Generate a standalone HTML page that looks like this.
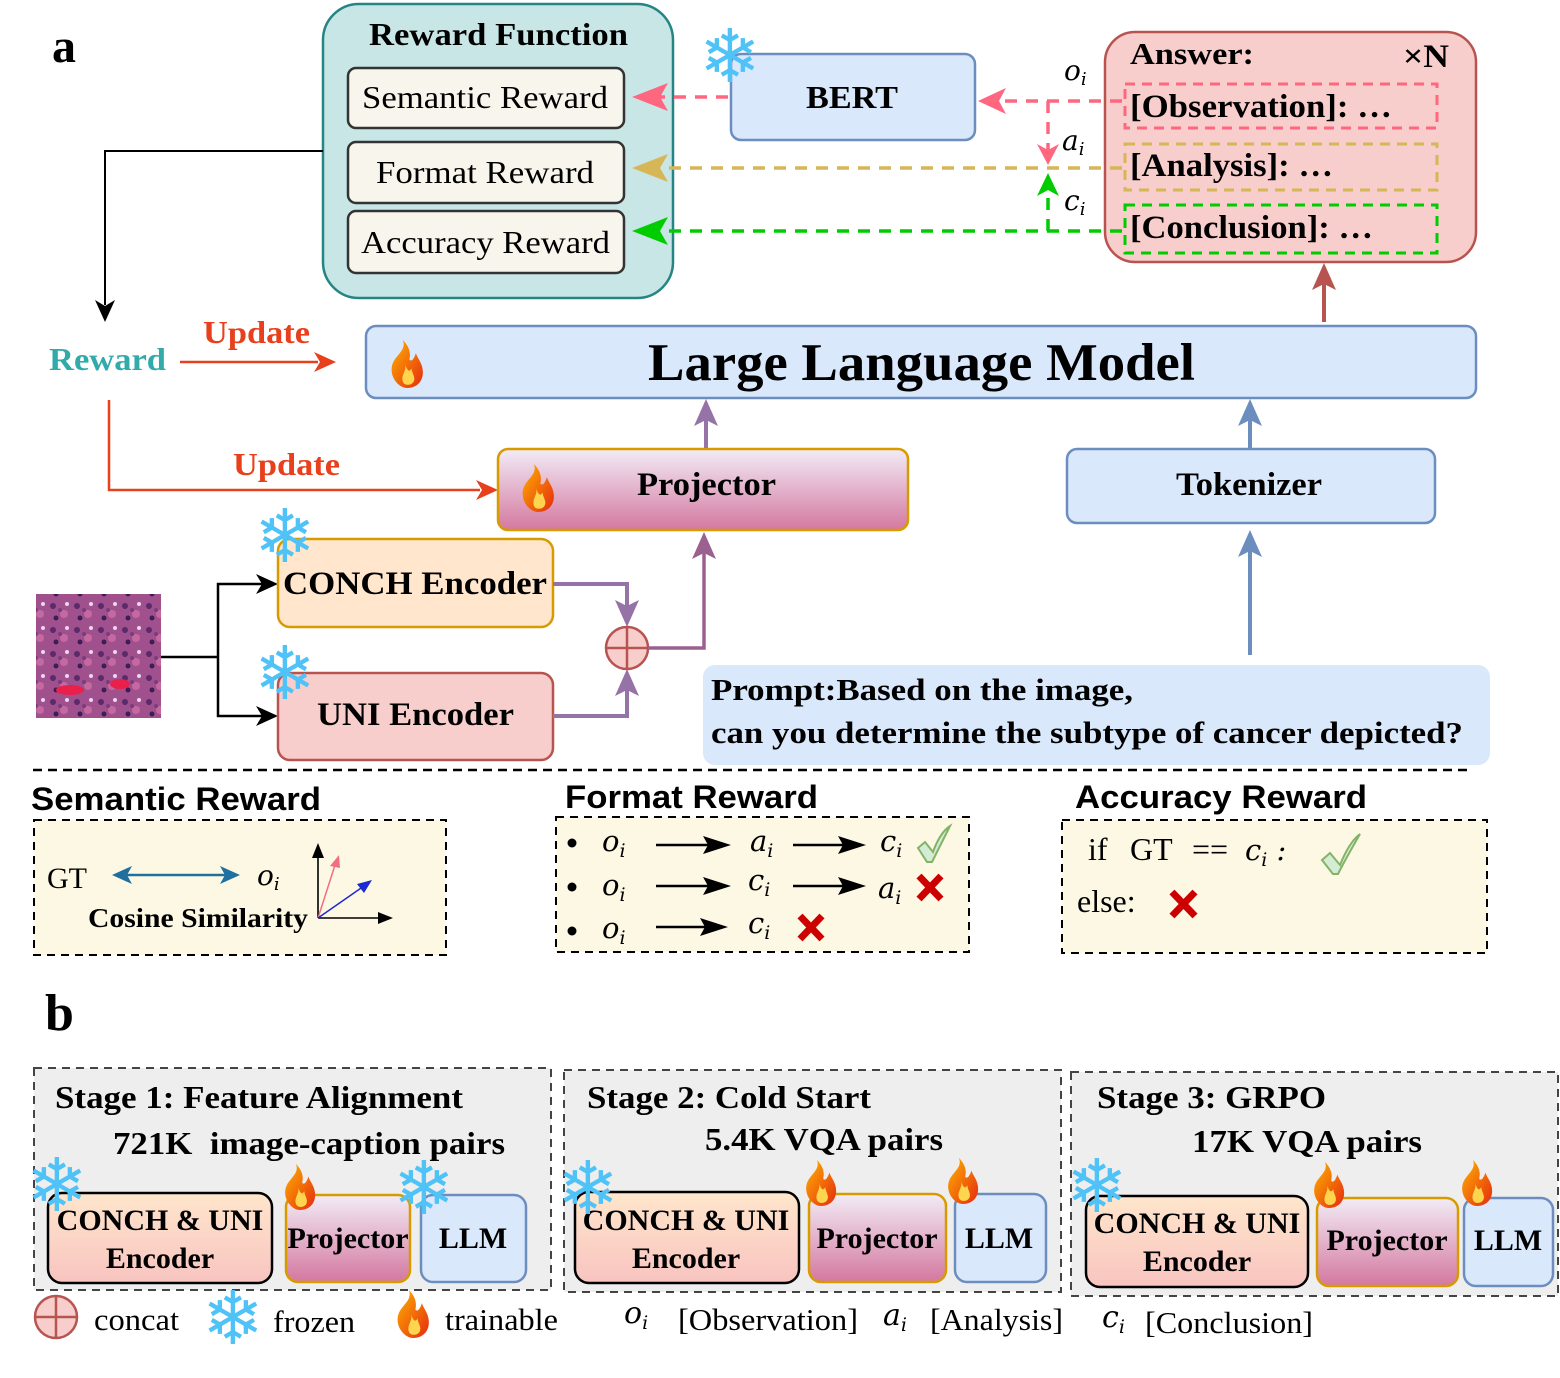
<!DOCTYPE html>
<html><head><meta charset="utf-8"><style>
html,body{margin:0;padding:0;background:#fff;}
svg{display:block;}
.s{font-family:"Liberation Serif",serif;}
.b{font-family:"Liberation Serif",serif;font-weight:bold;}
.ss{font-family:"Liberation Sans",sans-serif;font-weight:bold;}
.m{font-family:"DejaVu Serif","Liberation Serif",serif;font-style:italic;}
.sn{font-family:"DejaVu Sans",sans-serif;fill:#4fc3f7;font-size:74px;}
</style></head><body>
<svg width="1560" height="1378" viewBox="0 0 1560 1378" xmlns="http://www.w3.org/2000/svg">
<defs>
<linearGradient id="pg" x1="0" y1="0" x2="0" y2="1"><stop offset="0" stop-color="#f2ecf7"/><stop offset="1" stop-color="#d4789f"/></linearGradient>
<linearGradient id="eg" x1="0" y1="0" x2="0" y2="1"><stop offset="0" stop-color="#ffe6cc"/><stop offset="1" stop-color="#f8c4c0"/></linearGradient>
<linearGradient id="fg" x1="0" y1="0" x2="1" y2="1"><stop offset="0" stop-color="#ffb300"/><stop offset="1" stop-color="#e52b10"/></linearGradient>
<symbol id="fire" viewBox="0 0 40 44"><path d="M18 0 C22 10 10 14 8 24 C6 34 14 44 22 44 C32 44 38 36 36 26 C35 20 31 16 30 12 C28 18 26 20 24 18 C26 10 22 4 18 0Z" fill="url(#fg)"/><path d="M20 22 C22 28 16 32 18 38 C19 42 26 42 28 38 C30 34 26 30 26 26 C24 30 22 28 20 22Z" fill="#ffd54f"/></symbol>
<pattern id="tis" width="24" height="24" patternUnits="userSpaceOnUse"><rect width="24" height="24" fill="#a0508c"/><circle cx="5" cy="6" r="3" fill="#5a2a6a"/><circle cx="16" cy="14" r="4" fill="#c46aa0"/><circle cx="8" cy="18" r="2.5" fill="#3e1d55"/><circle cx="19" cy="4" r="2" fill="#e8d8ee"/><circle cx="12" cy="10" r="2" fill="#7a3b7e"/></pattern>
</defs>

<text x="52" y="62" class="b" font-size="48">a</text>

<rect x="323" y="4" width="350" height="294" rx="36" fill="#c8e6e6" stroke="#258585" stroke-width="2.5"/>
<text x="369" y="45" class="b" font-size="32" textLength="259" lengthAdjust="spacingAndGlyphs">Reward Function</text>
<rect x="348" y="68" width="276" height="60" rx="8" fill="#f8f5ec" stroke="#333" stroke-width="2.5"/>
<text x="362" y="108" class="s" font-size="32" textLength="246" lengthAdjust="spacingAndGlyphs">Semantic Reward</text>
<rect x="348" y="142" width="276" height="61" rx="8" fill="#f8f5ec" stroke="#333" stroke-width="2.5"/>
<text x="376" y="183" class="s" font-size="32" textLength="218" lengthAdjust="spacingAndGlyphs">Format Reward</text>
<rect x="348" y="211" width="276" height="62" rx="8" fill="#f8f5ec" stroke="#333" stroke-width="2.5"/>
<text x="361" y="253" class="s" font-size="32" textLength="249" lengthAdjust="spacingAndGlyphs">Accuracy Reward</text>

<rect x="731" y="54" width="244" height="86" rx="10" fill="#dae8fc" stroke="#6c8ebf" stroke-width="2.5"/>
<text x="806" y="108" class="b" font-size="32" textLength="92" lengthAdjust="spacingAndGlyphs">BERT</text>
<text x="730" y="57" class="sn" text-anchor="middle" dominant-baseline="central">❄</text>

<rect x="1105" y="32" width="371" height="230" rx="30" fill="#f8cecc" stroke="#b85450" stroke-width="2.5"/>
<text x="1130" y="64" class="b" font-size="31" textLength="124" lengthAdjust="spacingAndGlyphs">Answer:</text>
<text x="1403" y="67" class="b" font-size="33" textLength="46" lengthAdjust="spacingAndGlyphs">×N</text>
<rect x="1125" y="84" width="312" height="44" fill="none" stroke="#ff6680" stroke-width="3" stroke-dasharray="10,7"/>
<text x="1130" y="117" class="b" font-size="33" textLength="262" lengthAdjust="spacingAndGlyphs">[Observation]: …</text>
<rect x="1125" y="144" width="312" height="46" fill="none" stroke="#d6b656" stroke-width="3" stroke-dasharray="10,7"/>
<text x="1130" y="176" class="b" font-size="33" textLength="203" lengthAdjust="spacingAndGlyphs">[Analysis]: …</text>
<rect x="1125" y="205" width="312" height="48" fill="none" stroke="#00cc00" stroke-width="3" stroke-dasharray="10,7"/>
<text x="1130" y="238" class="b" font-size="33" textLength="243" lengthAdjust="spacingAndGlyphs">[Conclusion]: …</text>

<g stroke-width="3.5" fill="none" stroke-dasharray="12,9">
<path d="M1122,101 H995" stroke="#ff6680"/>
<path d="M1048,101 V150" stroke="#ff6680"/>
<path d="M728,97 H655" stroke="#ff6680"/>
<path d="M1122,168 H655" stroke="#d6b656"/>
<path d="M1122,231 H655" stroke="#00cc00"/>
<path d="M1048,231 V190" stroke="#00cc00"/>
</g>
<path d="M978,101 L1006,88 L999,101 L1006,114Z" fill="#ff6680"/>
<path d="M1048,165 L1037,144 L1048,150 L1059,144Z" fill="#ff6680"/>
<path d="M632,97 L668,83 L660,97 L668,111Z" fill="#ff6680"/>
<path d="M632,168 L668,154 L660,168 L668,182Z" fill="#d6b656"/>
<path d="M632,231 L668,217 L660,231 L668,245Z" fill="#00cc00"/>
<path d="M1048,173 L1037,196 L1048,190 L1059,196Z" fill="#00cc00"/>
<text x="1064" y="80" class="m" font-size="28">o<tspan font-size="18" dy="5">i</tspan></text>
<text x="1062" y="150" class="m" font-size="28">a<tspan font-size="18" dy="5">i</tspan></text>
<text x="1064" y="210" class="m" font-size="28">c<tspan font-size="18" dy="5">i</tspan></text>

<path d="M323,151 H105 V305" stroke="#000" stroke-width="2" fill="none"/>
<path d="M105,322 L95,300 L105,306 L115,300Z" fill="#000"/>
<text x="49" y="370" class="b" font-size="32" fill="#33aaaa" textLength="117" lengthAdjust="spacingAndGlyphs">Reward</text>
<text x="203" y="343" class="b" font-size="32" fill="#e8401c" textLength="107" lengthAdjust="spacingAndGlyphs">Update</text>
<path d="M180,362 H318" stroke="#e8401c" stroke-width="2.5"/>
<path d="M336,362 L314,352 L320,362 L314,372Z" fill="#e8401c"/>
<path d="M109,400 V490 H480" stroke="#e8401c" stroke-width="2.5" fill="none"/>
<path d="M498,490 L476,480 L482,490 L476,500Z" fill="#e8401c"/>
<text x="233" y="475" class="b" font-size="32" fill="#e8401c" textLength="107" lengthAdjust="spacingAndGlyphs">Update</text>

<rect x="366" y="326" width="1110" height="72" rx="10" fill="#dae8fc" stroke="#6c8ebf" stroke-width="2.5"/>
<text x="648" y="380" class="b" font-size="53" textLength="547" lengthAdjust="spacingAndGlyphs">Large Language Model</text>
<use href="#fire" x="383" y="340" width="44" height="48"/>
<path d="M1324,322 V280" stroke="#b85450" stroke-width="4"/>
<path d="M1324,263 L1312,290 L1324,284 L1336,290Z" fill="#b85450"/>

<rect x="498" y="449" width="410" height="81" rx="10" fill="url(#pg)" stroke="#d79b00" stroke-width="2.5"/>
<text x="637" y="495" class="b" font-size="33" textLength="139" lengthAdjust="spacingAndGlyphs">Projector</text>
<use href="#fire" x="514" y="464" width="44" height="48"/>
<path d="M706,448 V414" stroke="#9673a6" stroke-width="4"/>
<path d="M706,399 L694,426 L706,420 L718,426Z" fill="#9673a6"/>
<rect x="1067" y="449" width="368" height="74" rx="10" fill="#dae8fc" stroke="#6c8ebf" stroke-width="2.5"/>
<text x="1176" y="495" class="b" font-size="33" textLength="146" lengthAdjust="spacingAndGlyphs">Tokenizer</text>
<path d="M1250,448 V414" stroke="#6c8ebf" stroke-width="4"/>
<path d="M1250,399 L1238,426 L1250,420 L1262,426Z" fill="#6c8ebf"/>
<path d="M1250,655 V545" stroke="#6c8ebf" stroke-width="4"/>
<path d="M1250,530 L1238,557 L1250,551 L1262,557Z" fill="#6c8ebf"/>

<rect x="36" y="594" width="125" height="124" fill="url(#tis)"/>
<ellipse cx="70" cy="690" rx="14" ry="5" fill="#e8204a"/><ellipse cx="120" cy="684" rx="10" ry="5" fill="#e8204a"/>
<path d="M161,657 H218 V584 H262 M218,657 V716 H262" stroke="#000" stroke-width="2.5" fill="none"/>
<path d="M278,584 L256,574 L262,584 L256,594Z M278,716 L256,706 L262,716 L256,726Z" fill="#000"/>
<rect x="278" y="539" width="275" height="88" rx="12" fill="#ffe6cc" stroke="#d79b00" stroke-width="2.5"/>
<text x="283" y="594" class="b" font-size="33" textLength="264" lengthAdjust="spacingAndGlyphs">CONCH Encoder</text>
<rect x="278" y="673" width="275" height="87" rx="12" fill="#f8cecc" stroke="#b85450" stroke-width="2.5"/>
<text x="317" y="725" class="b" font-size="33" textLength="197" lengthAdjust="spacingAndGlyphs">UNI Encoder</text>
<text x="285" y="537" class="sn" text-anchor="middle" dominant-baseline="central">❄</text>
<text x="285" y="674" class="sn" text-anchor="middle" dominant-baseline="central">❄</text>
<path d="M553,584 H627 V610 M553,716 H627 V690" stroke="#9673a6" stroke-width="4" fill="none"/>
<path d="M627,627 L615,600 L627,606 L639,600Z M627,669 L615,696 L627,690 L639,696Z" fill="#9673a6"/>
<circle cx="627" cy="648" r="21" fill="#f8cecc" stroke="#b85450" stroke-width="2.5"/>
<path d="M606,648 H648 M627,627 V669" stroke="#b85450" stroke-width="2.5"/>
<path d="M648,648 H704 V548" stroke="#9a6090" stroke-width="3.5" fill="none"/>
<path d="M704,532 L692,559 L704,553 L716,559Z" fill="#9a6090"/>

<rect x="703" y="665" width="787" height="100" rx="12" fill="#dae8fc"/>
<text x="711" y="700" class="b" font-size="31" textLength="422" lengthAdjust="spacingAndGlyphs">Prompt:Based on the image,</text>
<text x="711" y="743" class="b" font-size="31" textLength="752" lengthAdjust="spacingAndGlyphs">can you determine the subtype of cancer depicted?</text>

<path d="M33,770 H1470" stroke="#000" stroke-width="2.5" stroke-dasharray="9,6"/>

<text x="31" y="810" class="ss" font-size="32" textLength="290" lengthAdjust="spacingAndGlyphs">Semantic Reward</text>
<rect x="34" y="820" width="412" height="135" fill="#fdf8e4" stroke="#000" stroke-width="2" stroke-dasharray="8,6"/>
<text x="47" y="888" class="s" font-size="30">GT</text>
<path d="M122,875 H230" stroke="#1f6f9f" stroke-width="2.5"/>
<path d="M112,875 L132,866 L127,875 L132,884Z M240,875 L220,866 L225,875 L220,884Z" fill="#1f6f9f"/>
<text x="257" y="885" class="m" font-size="28">o<tspan font-size="18" dy="5">i</tspan></text>
<text x="88" y="927" class="b" font-size="27" textLength="220" lengthAdjust="spacingAndGlyphs">Cosine Similarity</text>
<path d="M318,918 V850 M318,918 H385" stroke="#000" stroke-width="1.6" fill="none"/>
<path d="M318,843 L312,858 L324,858Z M393,918 L378,912 L378,924Z" fill="#000"/>
<path d="M318,918 L336,862" stroke="#f07080" stroke-width="1.5"/><path d="M339,855 L330,866 L340,868Z" fill="#f07080"/>
<path d="M318,918 L364,886" stroke="#1a2ad0" stroke-width="1.5"/><path d="M372,880 L357,884 L364,893Z" fill="#1a2ad0"/>

<text x="565" y="808" class="ss" font-size="32" textLength="253" lengthAdjust="spacingAndGlyphs">Format Reward</text>
<rect x="556" y="817" width="413" height="135" fill="#fdf8e4" stroke="#000" stroke-width="2" stroke-dasharray="8,6"/>
<g fill="#000"><circle cx="572" cy="843" r="4.5"/><circle cx="572" cy="887" r="4.5"/><circle cx="572" cy="931" r="4.5"/></g>
<g class="m" font-size="29">
<text x="602" y="851">o<tspan font-size="19" dy="6">i</tspan></text>
<text x="750" y="851">a<tspan font-size="19" dy="6">i</tspan></text>
<text x="880" y="851">c<tspan font-size="19" dy="6">i</tspan></text>
<text x="602" y="895">o<tspan font-size="19" dy="6">i</tspan></text>
<text x="748" y="890">c<tspan font-size="19" dy="6">i</tspan></text>
<text x="878" y="898">a<tspan font-size="19" dy="6">i</tspan></text>
<text x="602" y="938">o<tspan font-size="19" dy="6">i</tspan></text>
<text x="748" y="933">c<tspan font-size="19" dy="6">i</tspan></text>
</g>
<g stroke="#000" stroke-width="2.5"><path d="M656,845 H715 M793,845 H850 M656,886 H715 M793,886 H850 M656,927 H712"/></g>
<g fill="#000"><path d="M731,845 L703,836 L708,845 L703,854Z M866,845 L838,836 L843,845 L838,854Z M731,886 L703,877 L708,886 L703,895Z M866,886 L838,877 L843,886 L838,895Z M728,927 L700,918 L705,927 L700,936Z"/></g>
<path d="M918,848 L925,842 L933,852 C938,838 944,830 950,826 C944,838 938,850 932,862 L927,862Z" fill="#d5ecd4" stroke="#82b366" stroke-width="2"/>
<g stroke="#cc0000" stroke-width="7"><path d="M919,876 L941,899 M941,876 L919,899 M800,916 L822,939 M822,916 L800,939"/></g>

<text x="1075" y="808" class="ss" font-size="32" textLength="292" lengthAdjust="spacingAndGlyphs">Accuracy Reward</text>
<rect x="1062" y="820" width="425" height="133" fill="#fdf8e4" stroke="#000" stroke-width="2" stroke-dasharray="8,6"/>
<text x="1088" y="860" class="s" font-size="32">if</text>
<text x="1130" y="860" class="s" font-size="32">GT</text>
<text x="1192" y="860" class="s" font-size="32">==</text>
<text x="1245" y="860" class="m" font-size="29">c<tspan font-size="19" dy="6">i</tspan><tspan dy="-6"> :</tspan></text>
<path d="M1322,860 L1330,853 L1340,865 C1346,850 1352,840 1360,834 C1352,848 1345,860 1338,874 L1333,874Z" fill="#d5ecd4" stroke="#82b366" stroke-width="2"/>
<text x="1077" y="912" class="s" font-size="32">else:</text>
<g stroke="#cc0000" stroke-width="7"><path d="M1172,892 L1195,916 M1195,892 L1172,916"/></g>

<text x="45" y="1030" class="b" font-size="52">b</text>
<rect x="34" y="1068" width="517" height="222" fill="#eeeeee" stroke="#444" stroke-width="2" stroke-dasharray="8,6"/>
<rect x="564" y="1070" width="497" height="222" fill="#eeeeee" stroke="#444" stroke-width="2" stroke-dasharray="8,6"/>
<rect x="1071" y="1072" width="487" height="224" fill="#eeeeee" stroke="#444" stroke-width="2" stroke-dasharray="8,6"/>
<g class="b" font-size="32">
<text x="55" y="1108" textLength="408" lengthAdjust="spacingAndGlyphs">Stage 1: Feature Alignment</text>
<text x="113" y="1154" textLength="392" lengthAdjust="spacingAndGlyphs">721K&#160; image-caption pairs</text>
<text x="587" y="1108" textLength="284" lengthAdjust="spacingAndGlyphs">Stage 2: Cold Start</text>
<text x="705" y="1150" textLength="238" lengthAdjust="spacingAndGlyphs">5.4K VQA pairs</text>
<text x="1097" y="1108" textLength="229" lengthAdjust="spacingAndGlyphs">Stage 3: GRPO</text>
<text x="1192" y="1152" textLength="230" lengthAdjust="spacingAndGlyphs">17K VQA pairs</text>
</g>
<g stroke-width="2.5">
<rect x="48" y="1193" width="224" height="90" rx="14" fill="url(#eg)" stroke="#000"/>
<rect x="286" y="1195" width="124" height="87" rx="12" fill="url(#pg)" stroke="#d79b00"/>
<rect x="421" y="1195" width="105" height="87" rx="12" fill="#dae8fc" stroke="#6c8ebf"/>
<rect x="575" y="1192" width="224" height="91" rx="14" fill="url(#eg)" stroke="#000"/>
<rect x="809" y="1194" width="137" height="88" rx="12" fill="url(#pg)" stroke="#d79b00"/>
<rect x="955" y="1194" width="91" height="88" rx="12" fill="#dae8fc" stroke="#6c8ebf"/>
<rect x="1086" y="1196" width="222" height="91" rx="14" fill="url(#eg)" stroke="#000"/>
<rect x="1317" y="1198" width="141" height="88" rx="12" fill="url(#pg)" stroke="#d79b00"/>
<rect x="1464" y="1198" width="89" height="88" rx="12" fill="#dae8fc" stroke="#6c8ebf"/>
</g>
<g class="b" font-size="30" text-anchor="middle">
<text x="160" y="1230">CONCH &amp; UNI</text><text x="160" y="1268">Encoder</text>
<text x="348" y="1248">Projector</text><text x="473" y="1248">LLM</text>
<text x="686" y="1230">CONCH &amp; UNI</text><text x="686" y="1268">Encoder</text>
<text x="877" y="1248">Projector</text><text x="999" y="1248">LLM</text>
<text x="1197" y="1233">CONCH &amp; UNI</text><text x="1197" y="1271">Encoder</text>
<text x="1387" y="1250">Projector</text><text x="1508" y="1250">LLM</text>
</g>
<text x="57" y="1186" class="sn" text-anchor="middle" dominant-baseline="central">❄</text>
<text x="424" y="1189" class="sn" text-anchor="middle" dominant-baseline="central">❄</text>
<text x="588" y="1189" class="sn" text-anchor="middle" dominant-baseline="central">❄</text>
<text x="1097" y="1187" class="sn" text-anchor="middle" dominant-baseline="central">❄</text>
<use href="#fire" x="277" y="1164" width="42" height="46"/>
<use href="#fire" x="798" y="1160" width="42" height="46"/>
<use href="#fire" x="940" y="1158" width="42" height="46"/>
<use href="#fire" x="1306" y="1162" width="42" height="46"/>
<use href="#fire" x="1454" y="1160" width="42" height="46"/>

<circle cx="56" cy="1317" r="21" fill="#f8cecc" stroke="#b85450" stroke-width="2.5"/>
<path d="M35,1317 H77 M56,1296 V1338" stroke="#b85450" stroke-width="2.5"/>
<text x="94" y="1330" class="s" font-size="31" textLength="85" lengthAdjust="spacingAndGlyphs">concat</text>
<text x="233" y="1319" class="sn" text-anchor="middle" dominant-baseline="central">❄</text>
<text x="273" y="1332" class="s" font-size="31" textLength="82" lengthAdjust="spacingAndGlyphs">frozen</text>
<use href="#fire" x="389" y="1290" width="44" height="48"/>
<text x="445" y="1330" class="s" font-size="31" textLength="113" lengthAdjust="spacingAndGlyphs">trainable</text>
<text x="624" y="1323" class="m" font-size="30">o<tspan font-size="19" dy="6">i</tspan></text>
<text x="678" y="1330" class="s" font-size="31" textLength="180" lengthAdjust="spacingAndGlyphs">[Observation]</text>
<text x="883" y="1325" class="m" font-size="30">a<tspan font-size="19" dy="6">i</tspan></text>
<text x="930" y="1330" class="s" font-size="31" textLength="133" lengthAdjust="spacingAndGlyphs">[Analysis]</text>
<text x="1102" y="1327" class="m" font-size="30">c<tspan font-size="19" dy="6">i</tspan></text>
<text x="1145" y="1333" class="s" font-size="31" textLength="168" lengthAdjust="spacingAndGlyphs">[Conclusion]</text>
</svg>
</body></html>
